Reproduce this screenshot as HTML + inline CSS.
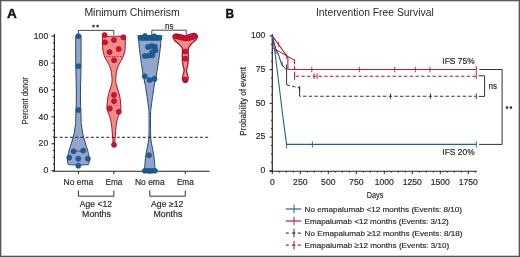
<!DOCTYPE html>
<html><head><meta charset="utf-8"><style>
html,body{margin:0;padding:0;background:#fff;width:520px;height:257px;overflow:hidden;}
svg{display:block;font-family:"Liberation Sans",sans-serif;will-change:transform;}
</style></head><body>
<svg width="520" height="257" viewBox="0 0 520 257" font-family="Liberation Sans, sans-serif">
<rect x="0" y="0" width="520" height="257" fill="#fff"/>
<text x="6.9" y="17.5" font-size="12" text-anchor="start" font-weight="bold" fill="#111" stroke="#111" stroke-width="0.35" textLength="9.8" lengthAdjust="spacingAndGlyphs">A</text>
<text x="225.6" y="17.5" font-size="12" text-anchor="start" font-weight="bold" fill="#111" stroke="#111" stroke-width="0.35" textLength="8.6" lengthAdjust="spacingAndGlyphs">B</text>
<text x="84.4" y="15.6" font-size="10" text-anchor="start" font-weight="normal" fill="#2a2a2a" textLength="95.4" lengthAdjust="spacingAndGlyphs">Minimum Chimerism</text>
<text x="315.9" y="15.6" font-size="10" text-anchor="start" font-weight="normal" fill="#2a2a2a" textLength="117.8" lengthAdjust="spacingAndGlyphs">Intervention Free Survival</text>
<line x1="54.40" y1="34.00" x2="54.40" y2="171.20" stroke="#222" stroke-width="1.15"/>
<line x1="51.40" y1="170.70" x2="54.40" y2="170.70" stroke="#222" stroke-width="1"/>
<text x="48.2" y="173.3" font-size="9.0" text-anchor="end" font-weight="normal" fill="#2a2a2a" stroke="#2a2a2a" stroke-width="0.18" textLength="4.8" lengthAdjust="spacingAndGlyphs">0</text>
<line x1="51.40" y1="143.78" x2="54.40" y2="143.78" stroke="#222" stroke-width="1"/>
<text x="48.2" y="146.4" font-size="9.0" text-anchor="end" font-weight="normal" fill="#2a2a2a" stroke="#2a2a2a" stroke-width="0.18" textLength="9.6" lengthAdjust="spacingAndGlyphs">20</text>
<line x1="51.40" y1="116.86" x2="54.40" y2="116.86" stroke="#222" stroke-width="1"/>
<text x="48.2" y="119.5" font-size="9.0" text-anchor="end" font-weight="normal" fill="#2a2a2a" stroke="#2a2a2a" stroke-width="0.18" textLength="9.6" lengthAdjust="spacingAndGlyphs">40</text>
<line x1="51.40" y1="89.94" x2="54.40" y2="89.94" stroke="#222" stroke-width="1"/>
<text x="48.2" y="92.5" font-size="9.0" text-anchor="end" font-weight="normal" fill="#2a2a2a" stroke="#2a2a2a" stroke-width="0.18" textLength="9.6" lengthAdjust="spacingAndGlyphs">60</text>
<line x1="51.40" y1="63.02" x2="54.40" y2="63.02" stroke="#222" stroke-width="1"/>
<text x="48.2" y="65.6" font-size="9.0" text-anchor="end" font-weight="normal" fill="#2a2a2a" stroke="#2a2a2a" stroke-width="0.18" textLength="9.6" lengthAdjust="spacingAndGlyphs">80</text>
<line x1="51.40" y1="36.10" x2="54.40" y2="36.10" stroke="#222" stroke-width="1"/>
<text x="48.2" y="38.7" font-size="9.0" text-anchor="end" font-weight="normal" fill="#2a2a2a" stroke="#2a2a2a" stroke-width="0.18" textLength="14.4" lengthAdjust="spacingAndGlyphs">100</text>
<line x1="52.80" y1="163.97" x2="54.40" y2="163.97" stroke="#222" stroke-width="1"/>
<line x1="52.80" y1="157.24" x2="54.40" y2="157.24" stroke="#222" stroke-width="1"/>
<line x1="52.80" y1="150.51" x2="54.40" y2="150.51" stroke="#222" stroke-width="1"/>
<line x1="52.80" y1="137.05" x2="54.40" y2="137.05" stroke="#222" stroke-width="1"/>
<line x1="52.80" y1="130.32" x2="54.40" y2="130.32" stroke="#222" stroke-width="1"/>
<line x1="52.80" y1="123.59" x2="54.40" y2="123.59" stroke="#222" stroke-width="1"/>
<line x1="52.80" y1="110.13" x2="54.40" y2="110.13" stroke="#222" stroke-width="1"/>
<line x1="52.80" y1="103.40" x2="54.40" y2="103.40" stroke="#222" stroke-width="1"/>
<line x1="52.80" y1="96.67" x2="54.40" y2="96.67" stroke="#222" stroke-width="1"/>
<line x1="52.80" y1="83.21" x2="54.40" y2="83.21" stroke="#222" stroke-width="1"/>
<line x1="52.80" y1="76.48" x2="54.40" y2="76.48" stroke="#222" stroke-width="1"/>
<line x1="52.80" y1="69.75" x2="54.40" y2="69.75" stroke="#222" stroke-width="1"/>
<line x1="52.80" y1="56.29" x2="54.40" y2="56.29" stroke="#222" stroke-width="1"/>
<line x1="52.80" y1="49.56" x2="54.40" y2="49.56" stroke="#222" stroke-width="1"/>
<line x1="52.80" y1="42.83" x2="54.40" y2="42.83" stroke="#222" stroke-width="1"/>
<line x1="52.80" y1="171.20" x2="209.60" y2="171.20" stroke="#222" stroke-width="1.15"/>
<line x1="78.40" y1="171.20" x2="78.40" y2="174.00" stroke="#222" stroke-width="1"/>
<line x1="113.90" y1="171.20" x2="113.90" y2="174.00" stroke="#222" stroke-width="1"/>
<line x1="149.80" y1="171.20" x2="149.80" y2="174.00" stroke="#222" stroke-width="1"/>
<line x1="185.30" y1="171.20" x2="185.30" y2="174.00" stroke="#222" stroke-width="1"/>
<text x="78.4" y="185.1" font-size="8.3" text-anchor="middle" font-weight="normal" fill="#2a2a2a" stroke="#2a2a2a" stroke-width="0.18" textLength="29.6" lengthAdjust="spacingAndGlyphs">No ema</text>
<text x="113.9" y="185.1" font-size="8.3" text-anchor="middle" font-weight="normal" fill="#2a2a2a" stroke="#2a2a2a" stroke-width="0.18" textLength="16.8" lengthAdjust="spacingAndGlyphs">Ema</text>
<text x="149.8" y="185.1" font-size="8.3" text-anchor="middle" font-weight="normal" fill="#2a2a2a" stroke="#2a2a2a" stroke-width="0.18" textLength="29.6" lengthAdjust="spacingAndGlyphs">No ema</text>
<text x="185.3" y="185.1" font-size="8.3" text-anchor="middle" font-weight="normal" fill="#2a2a2a" stroke="#2a2a2a" stroke-width="0.18" textLength="16.8" lengthAdjust="spacingAndGlyphs">Ema</text>
<polyline points="78.40,190.50 78.40,196.20 113.90,196.20 113.90,190.50" stroke="#333" stroke-width="1" fill="none"/>
<text x="95.9" y="206.8" font-size="8.3" text-anchor="middle" font-weight="normal" fill="#2a2a2a" stroke="#2a2a2a" stroke-width="0.18" textLength="32.2" lengthAdjust="spacingAndGlyphs">Age &lt;12</text>
<text x="96.5" y="216.9" font-size="8.3" text-anchor="middle" font-weight="normal" fill="#2a2a2a" stroke="#2a2a2a" stroke-width="0.18" textLength="28.8" lengthAdjust="spacingAndGlyphs">Months</text>
<polyline points="149.80,190.50 149.80,196.20 185.30,196.20 185.30,190.50" stroke="#333" stroke-width="1" fill="none"/>
<text x="167.2" y="206.8" font-size="8.3" text-anchor="middle" font-weight="normal" fill="#2a2a2a" stroke="#2a2a2a" stroke-width="0.18" textLength="32.2" lengthAdjust="spacingAndGlyphs">Age ≥12</text>
<text x="167.9" y="216.9" font-size="8.3" text-anchor="middle" font-weight="normal" fill="#2a2a2a" stroke="#2a2a2a" stroke-width="0.18" textLength="28.8" lengthAdjust="spacingAndGlyphs">Months</text>
<text transform="translate(28.2,100.7) rotate(-90)" font-size="9.5" text-anchor="middle" fill="#2a2a2a" stroke="#2a2a2a" stroke-width="0.15" textLength="47" lengthAdjust="spacingAndGlyphs">Percent donor</text>
<polyline points="78.40,35.40 78.40,30.40 113.80,30.40 113.80,35.00" stroke="#333" stroke-width="0.9" fill="none"/>
<circle cx="93.4" cy="26.1" r="1.3" fill="#333"/><circle cx="97.6" cy="26.1" r="1.3" fill="#333"/>
<polyline points="151.80,35.40 151.80,30.20 186.20,30.20 186.20,35.00" stroke="#333" stroke-width="0.9" fill="none"/>
<text x="169.2" y="29.2" font-size="8.3" text-anchor="middle" font-weight="normal" fill="#2a2a2a" stroke="#2a2a2a" stroke-width="0.18" textLength="8.4" lengthAdjust="spacingAndGlyphs">ns</text>
<path d="M77.60,35.00 C77.07,35.10 76.32,34.77 76.00,35.60 C75.68,36.43 75.73,35.10 75.70,40.00 C75.67,44.90 75.70,56.67 75.80,65.00 C75.90,73.33 76.23,83.33 76.30,90.00 C76.37,96.67 76.27,101.33 76.20,105.00 C76.13,108.67 75.98,109.50 75.90,112.00 C75.82,114.50 75.78,117.83 75.70,120.00 C75.62,122.17 75.60,123.17 75.40,125.00 C75.20,126.83 74.85,129.00 74.50,131.00 C74.15,133.00 73.92,134.67 73.30,137.00 C72.68,139.33 71.48,142.83 70.80,145.00 C70.12,147.17 69.70,148.03 69.20,150.00 C68.70,151.97 68.10,155.13 67.80,156.80 C67.50,158.47 67.42,159.00 67.40,160.00 C67.38,161.00 67.48,162.05 67.70,162.80 C67.92,163.55 67.58,164.15 68.70,164.50 C69.82,164.85 72.87,164.82 74.40,164.90 C75.93,164.98 77.15,164.98 77.90,165.00 C78.65,165.02 78.15,165.02 78.90,165.00 C79.65,164.98 80.87,164.98 82.40,164.90 C83.93,164.82 86.98,164.85 88.10,164.50 C89.22,164.15 88.88,163.55 89.10,162.80 C89.32,162.05 89.42,161.00 89.40,160.00 C89.38,159.00 89.30,158.47 89.00,156.80 C88.70,155.13 88.10,151.97 87.60,150.00 C87.10,148.03 86.68,147.17 86.00,145.00 C85.32,142.83 84.12,139.33 83.50,137.00 C82.88,134.67 82.65,133.00 82.30,131.00 C81.95,129.00 81.60,126.83 81.40,125.00 C81.20,123.17 81.18,122.17 81.10,120.00 C81.02,117.83 80.98,114.50 80.90,112.00 C80.82,109.50 80.67,108.67 80.60,105.00 C80.53,101.33 80.43,96.67 80.50,90.00 C80.57,83.33 80.90,73.33 81.00,65.00 C81.10,56.67 81.13,44.90 81.10,40.00 C81.07,35.10 81.12,36.43 80.80,35.60 C80.48,34.77 79.73,35.10 79.20,35.00 C78.67,34.90 78.13,34.90 77.60,35.00Z" fill="#93a5cd" stroke="#27466f" stroke-width="1.0"/>
<line x1="73.60" y1="151.00" x2="83.20" y2="151.00" stroke="#27466f" stroke-width="0.8"/>
<circle cx="78.40" cy="36.20" r="2.55" fill="#1c5d95" stroke="#174a7c" stroke-width="0.6"/>
<circle cx="78.40" cy="66.20" r="2.55" fill="#1c5d95" stroke="#174a7c" stroke-width="0.6"/>
<circle cx="78.30" cy="110.00" r="2.55" fill="#1c5d95" stroke="#174a7c" stroke-width="0.6"/>
<circle cx="73.60" cy="151.30" r="2.55" fill="#1c5d95" stroke="#174a7c" stroke-width="0.6"/>
<circle cx="83.20" cy="150.60" r="2.55" fill="#1c5d95" stroke="#174a7c" stroke-width="0.6"/>
<circle cx="69.20" cy="157.60" r="2.55" fill="#1c5d95" stroke="#174a7c" stroke-width="0.6"/>
<circle cx="78.30" cy="158.70" r="2.55" fill="#1c5d95" stroke="#174a7c" stroke-width="0.6"/>
<circle cx="87.90" cy="158.70" r="2.55" fill="#1c5d95" stroke="#174a7c" stroke-width="0.6"/>
<circle cx="78.30" cy="165.80" r="2.55" fill="#1c5d95" stroke="#174a7c" stroke-width="0.6"/>
<path d="M103.90,36.30 C100.40,36.38 103.15,36.35 102.90,36.80 C102.65,37.25 102.47,37.80 102.40,39.00 C102.33,40.20 102.45,42.50 102.50,44.00 C102.55,45.50 102.60,46.78 102.70,48.00 C102.80,49.22 102.88,50.13 103.10,51.30 C103.32,52.47 103.57,53.72 104.00,55.00 C104.43,56.28 105.12,57.83 105.70,59.00 C106.28,60.17 106.90,60.93 107.50,62.00 C108.10,63.07 108.78,64.23 109.30,65.40 C109.82,66.57 110.25,67.82 110.60,69.00 C110.95,70.18 111.20,71.33 111.40,72.50 C111.60,73.67 111.68,74.58 111.80,76.00 C111.92,77.42 112.22,79.33 112.10,81.00 C111.98,82.67 111.53,84.33 111.10,86.00 C110.67,87.67 110.00,89.33 109.50,91.00 C109.00,92.67 108.47,94.17 108.10,96.00 C107.73,97.83 107.50,100.00 107.30,102.00 C107.10,104.00 106.80,106.33 106.90,108.00 C107.00,109.67 107.45,110.60 107.90,112.00 C108.35,113.40 109.10,114.90 109.60,116.40 C110.10,117.90 110.53,119.23 110.90,121.00 C111.27,122.77 111.57,125.00 111.80,127.00 C112.03,129.00 112.17,131.33 112.30,133.00 C112.43,134.67 112.48,135.50 112.60,137.00 C112.72,138.50 112.88,140.75 113.00,142.00 C113.12,143.25 113.05,144.08 113.30,144.50 C113.55,144.92 114.25,144.92 114.50,144.50 C114.75,144.08 114.68,143.25 114.80,142.00 C114.92,140.75 115.08,138.50 115.20,137.00 C115.32,135.50 115.37,134.67 115.50,133.00 C115.63,131.33 115.77,129.00 116.00,127.00 C116.23,125.00 116.53,122.77 116.90,121.00 C117.27,119.23 117.70,117.90 118.20,116.40 C118.70,114.90 119.45,113.40 119.90,112.00 C120.35,110.60 120.80,109.67 120.90,108.00 C121.00,106.33 120.70,104.00 120.50,102.00 C120.30,100.00 120.07,97.83 119.70,96.00 C119.33,94.17 118.80,92.67 118.30,91.00 C117.80,89.33 117.13,87.67 116.70,86.00 C116.27,84.33 115.82,82.67 115.70,81.00 C115.58,79.33 115.88,77.42 116.00,76.00 C116.12,74.58 116.20,73.67 116.40,72.50 C116.60,71.33 116.85,70.18 117.20,69.00 C117.55,67.82 117.98,66.57 118.50,65.40 C119.02,64.23 119.70,63.07 120.30,62.00 C120.90,60.93 121.52,60.17 122.10,59.00 C122.68,57.83 123.37,56.28 123.80,55.00 C124.23,53.72 124.48,52.47 124.70,51.30 C124.92,50.13 125.00,49.22 125.10,48.00 C125.20,46.78 125.25,45.50 125.30,44.00 C125.35,42.50 125.47,40.20 125.40,39.00 C125.33,37.80 125.15,37.25 124.90,36.80 C124.65,36.35 127.40,36.38 123.90,36.30 C120.40,36.22 107.40,36.22 103.90,36.30Z" fill="#ef8d88" stroke="#b01230" stroke-width="1.0"/>
<line x1="106.50" y1="56.50" x2="121.50" y2="56.50" stroke="#8a1020" stroke-width="0.7" stroke-dasharray="1.5,1.2"/>
<line x1="108.50" y1="105.50" x2="119.50" y2="105.50" stroke="#c05060" stroke-width="0.6" stroke-dasharray="1.5,1.2"/>
<circle cx="104.60" cy="35.00" r="2.55" fill="#cc1236" stroke="#9c0c27" stroke-width="0.6"/>
<circle cx="105.10" cy="42.30" r="2.55" fill="#cc1236" stroke="#9c0c27" stroke-width="0.6"/>
<circle cx="114.00" cy="40.10" r="2.55" fill="#cc1236" stroke="#9c0c27" stroke-width="0.6"/>
<circle cx="123.30" cy="37.30" r="2.55" fill="#cc1236" stroke="#9c0c27" stroke-width="0.6"/>
<circle cx="118.70" cy="49.00" r="2.55" fill="#cc1236" stroke="#9c0c27" stroke-width="0.6"/>
<circle cx="109.50" cy="52.10" r="2.55" fill="#cc1236" stroke="#9c0c27" stroke-width="0.6"/>
<circle cx="114.10" cy="60.20" r="2.55" fill="#cc1236" stroke="#9c0c27" stroke-width="0.6"/>
<circle cx="114.00" cy="94.90" r="2.55" fill="#cc1236" stroke="#9c0c27" stroke-width="0.6"/>
<circle cx="114.00" cy="101.10" r="2.55" fill="#cc1236" stroke="#9c0c27" stroke-width="0.6"/>
<circle cx="109.80" cy="108.60" r="2.55" fill="#cc1236" stroke="#9c0c27" stroke-width="0.6"/>
<circle cx="118.80" cy="111.70" r="2.55" fill="#cc1236" stroke="#9c0c27" stroke-width="0.6"/>
<circle cx="114.00" cy="144.80" r="2.55" fill="#cc1236" stroke="#9c0c27" stroke-width="0.6"/>
<path d="M139.20,35.80 C135.57,35.93 138.63,35.07 138.60,36.60 C138.57,38.13 138.80,42.43 139.00,45.00 C139.20,47.57 139.52,49.67 139.80,52.00 C140.08,54.33 140.48,57.33 140.70,59.00 C140.92,60.67 140.87,60.50 141.10,62.00 C141.33,63.50 141.75,65.83 142.10,68.00 C142.45,70.17 142.85,73.00 143.20,75.00 C143.55,77.00 143.85,78.33 144.20,80.00 C144.55,81.67 145.00,83.33 145.30,85.00 C145.60,86.67 145.65,87.67 146.00,90.00 C146.35,92.33 146.97,96.00 147.40,99.00 C147.83,102.00 148.33,105.67 148.60,108.00 C148.87,110.33 148.92,110.17 149.00,113.00 C149.08,115.83 149.13,120.83 149.10,125.00 C149.07,129.17 149.02,134.67 148.80,138.00 C148.58,141.33 148.17,142.90 147.80,145.00 C147.43,147.10 146.98,148.43 146.60,150.60 C146.22,152.77 145.80,155.43 145.50,158.00 C145.20,160.57 144.92,163.92 144.80,166.00 C144.68,168.08 144.63,169.67 144.80,170.50 C144.97,171.33 144.30,170.92 145.80,171.00 C147.30,171.08 152.30,171.08 153.80,171.00 C155.30,170.92 154.63,171.33 154.80,170.50 C154.97,169.67 154.92,168.08 154.80,166.00 C154.68,163.92 154.40,160.57 154.10,158.00 C153.80,155.43 153.38,152.77 153.00,150.60 C152.62,148.43 152.17,147.10 151.80,145.00 C151.43,142.90 151.02,141.33 150.80,138.00 C150.58,134.67 150.53,129.17 150.50,125.00 C150.47,120.83 150.52,115.83 150.60,113.00 C150.68,110.17 150.73,110.33 151.00,108.00 C151.27,105.67 151.77,102.00 152.20,99.00 C152.63,96.00 153.25,92.33 153.60,90.00 C153.95,87.67 154.00,86.67 154.30,85.00 C154.60,83.33 155.05,81.67 155.40,80.00 C155.75,78.33 156.05,77.00 156.40,75.00 C156.75,73.00 157.15,70.17 157.50,68.00 C157.85,65.83 158.27,63.50 158.50,62.00 C158.73,60.50 158.68,60.67 158.90,59.00 C159.12,57.33 159.52,54.33 159.80,52.00 C160.08,49.67 160.40,47.57 160.60,45.00 C160.80,42.43 161.03,38.13 161.00,36.60 C160.97,35.07 164.03,35.93 160.40,35.80 C156.77,35.67 142.83,35.67 139.20,35.80Z" fill="#93a5cd" stroke="#27466f" stroke-width="1.0"/>
<circle cx="140.40" cy="37.90" r="2.55" fill="#1c5d95" stroke="#174a7c" stroke-width="0.6"/>
<circle cx="143.60" cy="38.10" r="2.55" fill="#1c5d95" stroke="#174a7c" stroke-width="0.6"/>
<circle cx="146.80" cy="38.10" r="2.55" fill="#1c5d95" stroke="#174a7c" stroke-width="0.6"/>
<circle cx="150.00" cy="38.00" r="2.55" fill="#1c5d95" stroke="#174a7c" stroke-width="0.6"/>
<circle cx="153.20" cy="38.10" r="2.55" fill="#1c5d95" stroke="#174a7c" stroke-width="0.6"/>
<circle cx="156.40" cy="38.10" r="2.55" fill="#1c5d95" stroke="#174a7c" stroke-width="0.6"/>
<circle cx="159.40" cy="37.90" r="2.55" fill="#1c5d95" stroke="#174a7c" stroke-width="0.6"/>
<circle cx="145.00" cy="36.00" r="2.55" fill="#1c5d95" stroke="#174a7c" stroke-width="0.6"/>
<circle cx="154.30" cy="36.30" r="2.55" fill="#1c5d95" stroke="#174a7c" stroke-width="0.6"/>
<circle cx="148.00" cy="47.00" r="2.55" fill="#1c5d95" stroke="#174a7c" stroke-width="0.6"/>
<circle cx="151.60" cy="46.00" r="2.55" fill="#1c5d95" stroke="#174a7c" stroke-width="0.6"/>
<circle cx="154.80" cy="46.60" r="2.55" fill="#1c5d95" stroke="#174a7c" stroke-width="0.6"/>
<circle cx="155.40" cy="50.40" r="2.55" fill="#1c5d95" stroke="#174a7c" stroke-width="0.6"/>
<circle cx="152.20" cy="52.20" r="2.55" fill="#1c5d95" stroke="#174a7c" stroke-width="0.6"/>
<circle cx="152.40" cy="55.30" r="2.55" fill="#1c5d95" stroke="#174a7c" stroke-width="0.6"/>
<circle cx="148.60" cy="55.70" r="2.55" fill="#1c5d95" stroke="#174a7c" stroke-width="0.6"/>
<circle cx="144.80" cy="56.00" r="2.55" fill="#1c5d95" stroke="#174a7c" stroke-width="0.6"/>
<circle cx="144.70" cy="76.20" r="2.55" fill="#1c5d95" stroke="#174a7c" stroke-width="0.6"/>
<circle cx="149.60" cy="80.00" r="2.55" fill="#1c5d95" stroke="#174a7c" stroke-width="0.6"/>
<circle cx="154.50" cy="78.90" r="2.55" fill="#1c5d95" stroke="#174a7c" stroke-width="0.6"/>
<circle cx="149.00" cy="155.20" r="2.55" fill="#1c5d95" stroke="#174a7c" stroke-width="0.6"/>
<circle cx="144.80" cy="170.80" r="2.55" fill="#1c5d95" stroke="#174a7c" stroke-width="0.6"/>
<circle cx="148.40" cy="170.80" r="2.55" fill="#1c5d95" stroke="#174a7c" stroke-width="0.6"/>
<circle cx="151.60" cy="170.80" r="2.55" fill="#1c5d95" stroke="#174a7c" stroke-width="0.6"/>
<circle cx="154.90" cy="170.80" r="2.55" fill="#1c5d95" stroke="#174a7c" stroke-width="0.6"/>
<path d="M185.80,35.90 C187.23,35.83 188.20,34.80 189.60,34.40 C191.00,34.00 192.92,33.30 194.20,33.50 C195.48,33.70 196.95,34.63 197.30,35.60 C197.65,36.57 197.22,38.00 196.30,39.30 C195.38,40.60 193.12,41.90 191.80,43.40 C190.48,44.90 188.98,46.37 188.40,48.30 C187.82,50.23 188.35,52.72 188.30,55.00 C188.25,57.28 188.25,60.13 188.10,62.00 C187.95,63.87 187.67,64.87 187.40,66.20 C187.13,67.53 186.57,68.83 186.50,70.00 C186.43,71.17 186.75,72.12 187.00,73.20 C187.25,74.28 187.85,75.40 188.00,76.50 C188.15,77.60 188.10,78.88 187.90,79.80 C187.70,80.72 187.23,81.53 186.80,82.00 C186.37,82.47 185.80,82.60 185.30,82.60 C184.80,82.60 184.23,82.47 183.80,82.00 C183.37,81.53 182.90,80.72 182.70,79.80 C182.50,78.88 182.45,77.60 182.60,76.50 C182.75,75.40 183.35,74.28 183.60,73.20 C183.85,72.12 184.17,71.17 184.10,70.00 C184.03,68.83 183.47,67.53 183.20,66.20 C182.93,64.87 182.65,63.87 182.50,62.00 C182.35,60.13 182.33,57.23 182.30,55.00 C182.27,52.77 182.80,50.33 182.30,48.60 C181.80,46.87 180.57,45.95 179.30,44.60 C178.03,43.25 175.77,41.87 174.70,40.50 C173.63,39.13 172.72,37.45 172.90,36.40 C173.08,35.35 174.45,34.47 175.80,34.20 C177.15,33.93 179.33,34.52 181.00,34.80 C182.67,35.08 184.37,35.97 185.80,35.90Z" fill="#ef8d88" stroke="#b01230" stroke-width="1.3"/>
<circle cx="175.90" cy="36.30" r="2.55" fill="#cc1236" stroke="#9c0c27" stroke-width="0.6"/>
<circle cx="178.90" cy="37.00" r="2.55" fill="#cc1236" stroke="#9c0c27" stroke-width="0.6"/>
<circle cx="182.10" cy="37.80" r="2.55" fill="#cc1236" stroke="#9c0c27" stroke-width="0.6"/>
<circle cx="185.40" cy="38.50" r="2.55" fill="#cc1236" stroke="#9c0c27" stroke-width="0.6"/>
<circle cx="188.70" cy="38.30" r="2.55" fill="#cc1236" stroke="#9c0c27" stroke-width="0.6"/>
<circle cx="191.80" cy="37.40" r="2.55" fill="#cc1236" stroke="#9c0c27" stroke-width="0.6"/>
<circle cx="194.60" cy="36.30" r="2.55" fill="#cc1236" stroke="#9c0c27" stroke-width="0.6"/>
<circle cx="185.30" cy="51.50" r="2.55" fill="#cc1236" stroke="#9c0c27" stroke-width="0.6"/>
<circle cx="185.30" cy="58.60" r="2.55" fill="#cc1236" stroke="#9c0c27" stroke-width="0.6"/>
<circle cx="185.30" cy="79.60" r="2.55" fill="#cc1236" stroke="#9c0c27" stroke-width="0.6"/>
<line x1="54.40" y1="137.30" x2="209.60" y2="137.30" stroke="#222" stroke-width="1" stroke-dasharray="3,2.2"/>
<line x1="272.30" y1="34.00" x2="272.30" y2="171.70" stroke="#222" stroke-width="1.15"/>
<line x1="269.30" y1="171.20" x2="476.80" y2="171.20" stroke="#222" stroke-width="1.15"/>
<line x1="269.60" y1="170.80" x2="272.30" y2="170.80" stroke="#222" stroke-width="1"/>
<text x="265.4" y="173.1" font-size="9.0" text-anchor="end" font-weight="normal" fill="#2a2a2a" stroke="#2a2a2a" stroke-width="0.18" textLength="4.8" lengthAdjust="spacingAndGlyphs">0</text>
<line x1="269.60" y1="137.08" x2="272.30" y2="137.08" stroke="#222" stroke-width="1"/>
<text x="265.4" y="139.4" font-size="9.0" text-anchor="end" font-weight="normal" fill="#2a2a2a" stroke="#2a2a2a" stroke-width="0.18" textLength="9.6" lengthAdjust="spacingAndGlyphs">25</text>
<line x1="269.60" y1="103.35" x2="272.30" y2="103.35" stroke="#222" stroke-width="1"/>
<text x="265.4" y="105.7" font-size="9.0" text-anchor="end" font-weight="normal" fill="#2a2a2a" stroke="#2a2a2a" stroke-width="0.18" textLength="9.6" lengthAdjust="spacingAndGlyphs">50</text>
<line x1="269.60" y1="69.63" x2="272.30" y2="69.63" stroke="#222" stroke-width="1"/>
<text x="265.4" y="71.9" font-size="9.0" text-anchor="end" font-weight="normal" fill="#2a2a2a" stroke="#2a2a2a" stroke-width="0.18" textLength="9.6" lengthAdjust="spacingAndGlyphs">75</text>
<line x1="269.60" y1="35.90" x2="272.30" y2="35.90" stroke="#222" stroke-width="1"/>
<text x="265.4" y="38.2" font-size="9.0" text-anchor="end" font-weight="normal" fill="#2a2a2a" stroke="#2a2a2a" stroke-width="0.18" textLength="14.4" lengthAdjust="spacingAndGlyphs">100</text>
<line x1="271.00" y1="162.37" x2="272.30" y2="162.37" stroke="#222" stroke-width="1"/>
<line x1="271.00" y1="153.94" x2="272.30" y2="153.94" stroke="#222" stroke-width="1"/>
<line x1="271.00" y1="145.51" x2="272.30" y2="145.51" stroke="#222" stroke-width="1"/>
<line x1="271.00" y1="128.64" x2="272.30" y2="128.64" stroke="#222" stroke-width="1"/>
<line x1="271.00" y1="120.21" x2="272.30" y2="120.21" stroke="#222" stroke-width="1"/>
<line x1="271.00" y1="111.78" x2="272.30" y2="111.78" stroke="#222" stroke-width="1"/>
<line x1="271.00" y1="94.92" x2="272.30" y2="94.92" stroke="#222" stroke-width="1"/>
<line x1="271.00" y1="86.49" x2="272.30" y2="86.49" stroke="#222" stroke-width="1"/>
<line x1="271.00" y1="78.06" x2="272.30" y2="78.06" stroke="#222" stroke-width="1"/>
<line x1="271.00" y1="61.19" x2="272.30" y2="61.19" stroke="#222" stroke-width="1"/>
<line x1="271.00" y1="52.76" x2="272.30" y2="52.76" stroke="#222" stroke-width="1"/>
<line x1="271.00" y1="44.33" x2="272.30" y2="44.33" stroke="#222" stroke-width="1"/>
<line x1="272.30" y1="171.20" x2="272.30" y2="174.00" stroke="#222" stroke-width="1"/>
<text x="272.3" y="184.7" font-size="9.0" text-anchor="middle" font-weight="normal" fill="#2a2a2a" stroke="#2a2a2a" stroke-width="0.18" textLength="4.8" lengthAdjust="spacingAndGlyphs">0</text>
<line x1="300.30" y1="171.20" x2="300.30" y2="174.00" stroke="#222" stroke-width="1"/>
<text x="300.3" y="184.7" font-size="9.0" text-anchor="middle" font-weight="normal" fill="#2a2a2a" stroke="#2a2a2a" stroke-width="0.18" textLength="14.4" lengthAdjust="spacingAndGlyphs">250</text>
<line x1="328.30" y1="171.20" x2="328.30" y2="174.00" stroke="#222" stroke-width="1"/>
<text x="328.3" y="184.7" font-size="9.0" text-anchor="middle" font-weight="normal" fill="#2a2a2a" stroke="#2a2a2a" stroke-width="0.18" textLength="14.4" lengthAdjust="spacingAndGlyphs">500</text>
<line x1="356.30" y1="171.20" x2="356.30" y2="174.00" stroke="#222" stroke-width="1"/>
<text x="356.3" y="184.7" font-size="9.0" text-anchor="middle" font-weight="normal" fill="#2a2a2a" stroke="#2a2a2a" stroke-width="0.18" textLength="14.4" lengthAdjust="spacingAndGlyphs">750</text>
<line x1="384.30" y1="171.20" x2="384.30" y2="174.00" stroke="#222" stroke-width="1"/>
<text x="384.3" y="184.7" font-size="9.0" text-anchor="middle" font-weight="normal" fill="#2a2a2a" stroke="#2a2a2a" stroke-width="0.18" textLength="19.2" lengthAdjust="spacingAndGlyphs">1000</text>
<line x1="412.30" y1="171.20" x2="412.30" y2="174.00" stroke="#222" stroke-width="1"/>
<text x="412.3" y="184.7" font-size="9.0" text-anchor="middle" font-weight="normal" fill="#2a2a2a" stroke="#2a2a2a" stroke-width="0.18" textLength="19.2" lengthAdjust="spacingAndGlyphs">1250</text>
<line x1="440.30" y1="171.20" x2="440.30" y2="174.00" stroke="#222" stroke-width="1"/>
<text x="440.3" y="184.7" font-size="9.0" text-anchor="middle" font-weight="normal" fill="#2a2a2a" stroke="#2a2a2a" stroke-width="0.18" textLength="19.2" lengthAdjust="spacingAndGlyphs">1500</text>
<line x1="468.30" y1="171.20" x2="468.30" y2="174.00" stroke="#222" stroke-width="1"/>
<text x="468.3" y="184.7" font-size="9.0" text-anchor="middle" font-weight="normal" fill="#2a2a2a" stroke="#2a2a2a" stroke-width="0.18" textLength="19.2" lengthAdjust="spacingAndGlyphs">1750</text>
<line x1="279.30" y1="171.20" x2="279.30" y2="172.60" stroke="#222" stroke-width="1"/>
<line x1="286.30" y1="171.20" x2="286.30" y2="172.60" stroke="#222" stroke-width="1"/>
<line x1="293.30" y1="171.20" x2="293.30" y2="172.60" stroke="#222" stroke-width="1"/>
<line x1="307.30" y1="171.20" x2="307.30" y2="172.60" stroke="#222" stroke-width="1"/>
<line x1="314.30" y1="171.20" x2="314.30" y2="172.60" stroke="#222" stroke-width="1"/>
<line x1="321.30" y1="171.20" x2="321.30" y2="172.60" stroke="#222" stroke-width="1"/>
<line x1="335.30" y1="171.20" x2="335.30" y2="172.60" stroke="#222" stroke-width="1"/>
<line x1="342.30" y1="171.20" x2="342.30" y2="172.60" stroke="#222" stroke-width="1"/>
<line x1="349.30" y1="171.20" x2="349.30" y2="172.60" stroke="#222" stroke-width="1"/>
<line x1="363.30" y1="171.20" x2="363.30" y2="172.60" stroke="#222" stroke-width="1"/>
<line x1="370.30" y1="171.20" x2="370.30" y2="172.60" stroke="#222" stroke-width="1"/>
<line x1="377.30" y1="171.20" x2="377.30" y2="172.60" stroke="#222" stroke-width="1"/>
<line x1="391.30" y1="171.20" x2="391.30" y2="172.60" stroke="#222" stroke-width="1"/>
<line x1="398.30" y1="171.20" x2="398.30" y2="172.60" stroke="#222" stroke-width="1"/>
<line x1="405.30" y1="171.20" x2="405.30" y2="172.60" stroke="#222" stroke-width="1"/>
<line x1="419.30" y1="171.20" x2="419.30" y2="172.60" stroke="#222" stroke-width="1"/>
<line x1="426.30" y1="171.20" x2="426.30" y2="172.60" stroke="#222" stroke-width="1"/>
<line x1="433.30" y1="171.20" x2="433.30" y2="172.60" stroke="#222" stroke-width="1"/>
<line x1="447.30" y1="171.20" x2="447.30" y2="172.60" stroke="#222" stroke-width="1"/>
<line x1="454.30" y1="171.20" x2="454.30" y2="172.60" stroke="#222" stroke-width="1"/>
<line x1="461.30" y1="171.20" x2="461.30" y2="172.60" stroke="#222" stroke-width="1"/>
<line x1="475.30" y1="171.20" x2="475.30" y2="172.60" stroke="#222" stroke-width="1"/>
<text x="375.0" y="198.4" font-size="9.7" text-anchor="middle" font-weight="normal" fill="#2a2a2a" stroke="#2a2a2a" stroke-width="0.18" textLength="16.6" lengthAdjust="spacingAndGlyphs">Days</text>
<text transform="translate(245.8,101.3) rotate(-90)" font-size="9.6" text-anchor="middle" fill="#2a2a2a" stroke="#2a2a2a" stroke-width="0.15" textLength="68.8" lengthAdjust="spacingAndGlyphs">Probability of event</text>
<polyline points="272.30,35.90 287.90,57.50 287.90,69.50 476.30,69.50" stroke="#b31f3d" stroke-width="1.1" fill="none"/>
<polyline points="272.30,35.90 272.60,47.80 294.60,60.30" stroke="#a0182f" stroke-width="1.0" fill="none"/>
<line x1="294.60" y1="60.30" x2="294.60" y2="76.20" stroke="#a0182f" stroke-width="1.0" stroke-dasharray="3.4,2.3"/>
<polyline points="294.60,76.20 476.30,76.20" stroke="#a0182f" stroke-width="1.15" fill="none" stroke-dasharray="3.4,2.3" stroke-dashoffset="4.6"/>
<polyline points="272.30,35.90 275.60,48.20 278.60,55.00 281.40,63.80 285.00,68.40 286.60,69.50" stroke="#1c3b5e" stroke-width="1.0" fill="none"/>
<line x1="286.60" y1="64.50" x2="286.60" y2="84.80" stroke="#1c3b5e" stroke-width="1.0"/>
<polyline points="286.60,84.80 299.40,88.00" stroke="#1c3b5e" stroke-width="1.0" fill="none" stroke-dasharray="3.4,2.3"/>
<line x1="299.60" y1="86.00" x2="299.60" y2="96.20" stroke="#1c3b5e" stroke-width="1.0"/>
<polyline points="299.60,96.20 476.30,96.20" stroke="#1c3b5e" stroke-width="1.15" fill="none" stroke-dasharray="3.4,2.3" stroke-dashoffset="2.2"/>
<polyline points="272.30,35.90 275.30,55.00 280.50,97.00 282.80,116.40 286.60,144.40 476.30,144.40" stroke="#2a5d8f" stroke-width="1.1" fill="none" stroke-linejoin="round"/>
<line x1="278.50" y1="0.00" x2="278.50" y2="0.00" stroke="#b31f3d" stroke-width="0.9"/>
<line x1="286.70" y1="0.00" x2="286.70" y2="0.00" stroke="#b31f3d" stroke-width="0.9"/>
<line x1="278.50" y1="41.90" x2="278.50" y2="46.70" stroke="#b31f3d" stroke-width="0.9"/>
<line x1="286.70" y1="54.20" x2="286.70" y2="59.00" stroke="#b31f3d" stroke-width="0.9"/>
<line x1="276.00" y1="49.10" x2="276.00" y2="53.90" stroke="#1c3b5e" stroke-width="0.9"/>
<line x1="282.20" y1="61.60" x2="282.20" y2="66.40" stroke="#1c3b5e" stroke-width="0.9"/>
<line x1="299.60" y1="86.50" x2="299.60" y2="92.00" stroke="#1c3b5e" stroke-width="0.9"/>
<line x1="311.80" y1="66.70" x2="311.80" y2="72.30" stroke="#b31f3d" stroke-width="0.9"/>
<line x1="359.30" y1="66.70" x2="359.30" y2="72.30" stroke="#b31f3d" stroke-width="0.9"/>
<line x1="394.80" y1="66.70" x2="394.80" y2="72.30" stroke="#b31f3d" stroke-width="0.9"/>
<line x1="415.30" y1="66.70" x2="415.30" y2="72.30" stroke="#b31f3d" stroke-width="0.9"/>
<line x1="429.90" y1="66.70" x2="429.90" y2="72.30" stroke="#b31f3d" stroke-width="0.9"/>
<line x1="476.30" y1="66.00" x2="476.30" y2="79.00" stroke="#b31f3d" stroke-width="0.9"/>
<line x1="294.50" y1="59.50" x2="294.50" y2="64.50" stroke="#a0182f" stroke-width="0.9"/>
<line x1="294.60" y1="74.00" x2="294.60" y2="80.00" stroke="#a0182f" stroke-width="0.9"/>
<line x1="314.00" y1="73.40" x2="314.00" y2="79.00" stroke="#a0182f" stroke-width="0.9"/>
<line x1="317.10" y1="73.40" x2="317.10" y2="79.00" stroke="#a0182f" stroke-width="0.9"/>
<line x1="390.50" y1="93.40" x2="390.50" y2="99.00" stroke="#1c3b5e" stroke-width="0.9"/>
<line x1="430.50" y1="93.40" x2="430.50" y2="99.00" stroke="#1c3b5e" stroke-width="0.9"/>
<line x1="476.30" y1="93.40" x2="476.30" y2="99.00" stroke="#1c3b5e" stroke-width="0.9"/>
<line x1="312.40" y1="141.20" x2="312.40" y2="147.60" stroke="#2a5d8f" stroke-width="0.9"/>
<line x1="476.30" y1="141.20" x2="476.30" y2="147.60" stroke="#2a5d8f" stroke-width="0.9"/>
<line x1="286.60" y1="143.70" x2="286.60" y2="148.30" stroke="#2a5d8f" stroke-width="0.9"/>
<line x1="281.80" y1="66.00" x2="281.80" y2="66.00" stroke="#2a5d8f" stroke-width="0.9"/>
<line x1="299.60" y1="66.00" x2="299.60" y2="66.00" stroke="#2a5d8f" stroke-width="0.9"/>
<text x="442.3" y="63.6" font-size="8.3" text-anchor="start" font-weight="normal" fill="#2a2a2a" stroke="#2a2a2a" stroke-width="0.18" textLength="32.4" lengthAdjust="spacingAndGlyphs">IFS 75%</text>
<text x="442.3" y="154.6" font-size="8.3" text-anchor="start" font-weight="normal" fill="#2a2a2a" stroke="#2a2a2a" stroke-width="0.18" textLength="32.4" lengthAdjust="spacingAndGlyphs">IFS 20%</text>
<polyline points="479.30,69.50 502.10,69.50 502.10,144.40 479.00,144.40" stroke="#333" stroke-width="1.0" fill="none"/>
<polyline points="478.70,75.80 484.60,75.80 484.60,96.40 478.70,96.40" stroke="#333" stroke-width="1.0" fill="none"/>
<text x="488.5" y="88.9" font-size="8.3" text-anchor="start" font-weight="normal" fill="#2a2a2a" stroke="#2a2a2a" stroke-width="0.18" textLength="8.4" lengthAdjust="spacingAndGlyphs">ns</text>
<circle cx="507.0" cy="107.6" r="1.3" fill="#333"/><circle cx="510.9" cy="107.6" r="1.3" fill="#333"/>
<line x1="285.80" y1="209.00" x2="301.20" y2="209.00" stroke="#2a5d8f" stroke-width="1.2"/>
<line x1="294.00" y1="204.70" x2="294.00" y2="213.30" stroke="#2a5d8f" stroke-width="1.0"/>
<text x="304.6" y="211.7" font-size="8.1" text-anchor="start" font-weight="normal" fill="#2a2a2a" stroke="#2a2a2a" stroke-width="0.18" textLength="157.4" lengthAdjust="spacingAndGlyphs">No emapalumab &lt;12 months (Events: 8/10)</text>
<line x1="285.80" y1="221.00" x2="301.20" y2="221.00" stroke="#b31f3d" stroke-width="1.2"/>
<line x1="294.00" y1="216.70" x2="294.00" y2="225.30" stroke="#b31f3d" stroke-width="1.0"/>
<text x="304.6" y="223.7" font-size="8.1" text-anchor="start" font-weight="normal" fill="#2a2a2a" stroke="#2a2a2a" stroke-width="0.18" textLength="144.2" lengthAdjust="spacingAndGlyphs">Emapalumab &lt;12 months (Events: 3/12)</text>
<line x1="285.90" y1="233.10" x2="288.70" y2="233.10" stroke="#1c3b5e" stroke-width="1.2"/>
<line x1="292.00" y1="233.10" x2="295.40" y2="233.10" stroke="#1c3b5e" stroke-width="1.2"/>
<line x1="297.80" y1="233.10" x2="300.80" y2="233.10" stroke="#1c3b5e" stroke-width="1.2"/>
<line x1="294.00" y1="228.80" x2="294.00" y2="237.40" stroke="#1c3b5e" stroke-width="1.0"/>
<text x="304.6" y="235.8" font-size="8.1" text-anchor="start" font-weight="normal" fill="#2a2a2a" stroke="#2a2a2a" stroke-width="0.18" textLength="157.8" lengthAdjust="spacingAndGlyphs">No Emapalumab ≥12 months (Events: 8/18)</text>
<line x1="285.90" y1="245.10" x2="288.70" y2="245.10" stroke="#a0182f" stroke-width="1.2"/>
<line x1="292.00" y1="245.10" x2="295.40" y2="245.10" stroke="#a0182f" stroke-width="1.2"/>
<line x1="297.80" y1="245.10" x2="300.80" y2="245.10" stroke="#a0182f" stroke-width="1.2"/>
<line x1="294.00" y1="240.80" x2="294.00" y2="249.40" stroke="#a0182f" stroke-width="1.0"/>
<text x="304.6" y="247.8" font-size="8.1" text-anchor="start" font-weight="normal" fill="#2a2a2a" stroke="#2a2a2a" stroke-width="0.18" textLength="144.6" lengthAdjust="spacingAndGlyphs">Emapalumab ≥12 months (Events: 3/10)</text>
<rect x="0" y="0" width="1.3" height="257" fill="#555"/>
<rect x="0" y="0" width="520" height="1.3" fill="#5a5a5a"/>
<rect x="518.7" y="0" width="1.3" height="257" fill="#555"/>
<rect x="0" y="255.7" width="520" height="1.3" fill="#555"/>
</svg>
</body></html>
